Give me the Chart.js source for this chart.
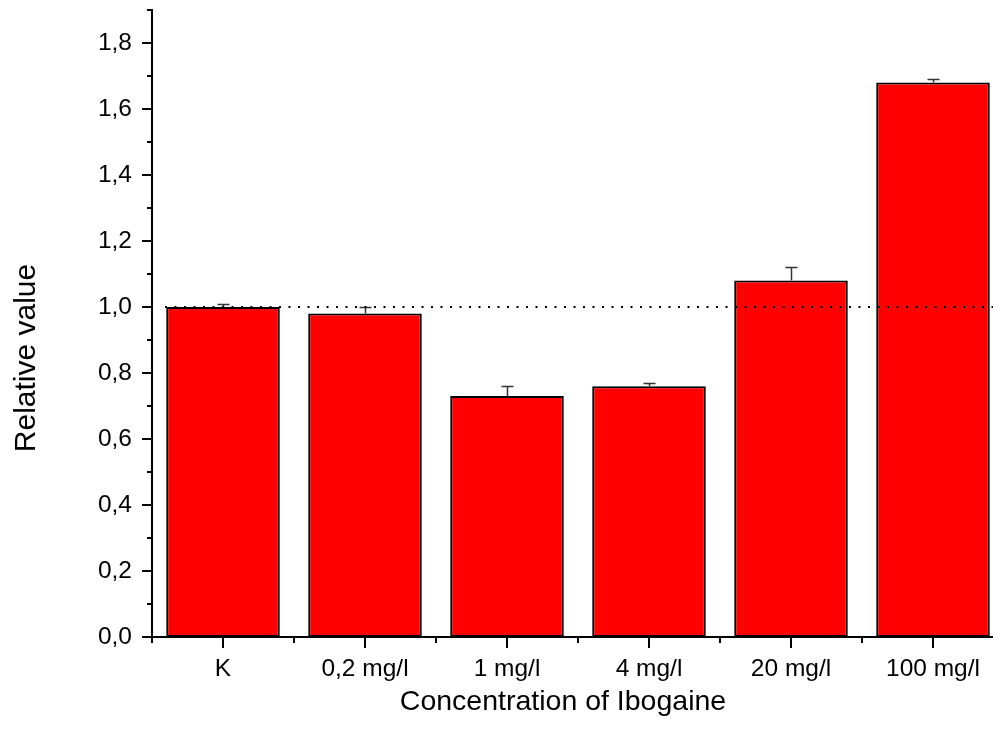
<!DOCTYPE html>
<html lang="en">
<head>
  <meta charset="UTF-8">
  <title>Ibogaine concentration</title>
  <script src="https://cdn.jsdelivr.net/npm/chart.js"></script>
</head>
<style>
  body {
    margin: 0;
    padding: 0;
    background: #fff;
    overflow: hidden;
  }
  canvas {
    display: block;
  }
</style>
<body>
<canvas id="ibogaineChart" width="1010" height="733"></canvas>

<script>
  // data
  const categories = ['K', '0,2 mg/l', '1 mg/l', '4 mg/l', '20 mg/l', '100 mg/l'];
  const relValues = [1.00, 0.98, 0.73, 0.76, 1.08, 1.68];
  const relErrors = [0.01, 0.02, 0.03, 0.01, 0.04, 0.01];
  const yTicks = [0, 0.2, 0.4, 0.6, 0.8, 1.0, 1.2, 1.4, 1.6, 1.8];
  const yTickLabels = ['0,0', '0,2', '0,4', '0,6', '0,8', '1,0', '1,2', '1,4', '1,6', '1,8'];
  const yMinorTicks = [0.1, 0.3, 0.5, 0.7, 0.9, 1.1, 1.3, 1.5, 1.7, 1.9];
  const referenceLevel = 1.0;

  const FONT = 'Liberation Sans, Arial, sans-serif';

  // error bars, dotted reference line, tick marks and axis titles
  const extras = {
    id: 'extras',
    afterDatasetsDraw(chart) {
      const ctx = chart.ctx;
      const x = chart.scales.x;
      const y = chart.scales.y;
      const area = chart.chartArea;

      ctx.save();
      // error bars (upper half only)
      ctx.strokeStyle = '#333';
      ctx.lineWidth = 1.5;
      relValues.forEach((v, i) => {
        const cx = Math.round(x.getPixelForValue(i)) + 0.5;
        const y0 = y.getPixelForValue(v);
        const y1 = Math.round(y.getPixelForValue(v + relErrors[i])) + 0.5;
        ctx.beginPath();
        ctx.moveTo(cx, y0);
        ctx.lineTo(cx, y1);
        ctx.moveTo(cx - 6, y1);
        ctx.lineTo(cx + 6, y1);
        ctx.stroke();
      });

      // dotted line at 1,0
      const yr = y.getPixelForValue(referenceLevel);
      ctx.strokeStyle = '#000';
      ctx.lineWidth = 2;
      ctx.setLineDash([2, 7.5]);
      ctx.beginPath();
      ctx.moveTo(area.left + 13, yr);
      ctx.lineTo(area.right, yr);
      ctx.stroke();
      ctx.setLineDash([]);
      ctx.restore();
    },
    afterDraw(chart) {
      const ctx = chart.ctx;
      const x = chart.scales.x;
      const y = chart.scales.y;
      const area = chart.chartArea;

      ctx.save();
      ctx.strokeStyle = '#000';
      ctx.lineWidth = 2;
      ctx.beginPath();
      // y ticks
      yTicks.forEach(v => {
        const py = Math.round(y.getPixelForValue(v));
        ctx.moveTo(area.left - 10, py);
        ctx.lineTo(area.left, py);
      });
      yMinorTicks.forEach(v => {
        const py = Math.round(y.getPixelForValue(v));
        ctx.moveTo(area.left - 5, py);
        ctx.lineTo(area.left, py);
      });
      // x ticks
      categories.forEach((c, i) => {
        const px = Math.round(x.getPixelForValue(i));
        ctx.moveTo(px, area.bottom);
        ctx.lineTo(px, area.bottom + 11);
        const pm = Math.round(x.getPixelForValue(i - 0.5));
        ctx.moveTo(pm, area.bottom);
        ctx.lineTo(pm, area.bottom + 6);
      });
      ctx.stroke();

      // axis titles
      ctx.fillStyle = '#000';
      ctx.font = '28.5px ' + FONT;
      ctx.textAlign = 'center';
      ctx.textBaseline = 'middle';
      ctx.fillText('Concentration of Ibogaine', 563, 702);
      ctx.font = '30px ' + FONT;
      ctx.translate(27, 358);
      ctx.rotate(-Math.PI / 2);
      ctx.fillText('Relative value', 0, 0);
      ctx.restore();
    }
  };

  const ctx = document.getElementById('ibogaineChart').getContext('2d');
  const ibogaineChart = new Chart(ctx, {
    type: 'bar',
    data: {
      labels: categories,
      datasets: [{
        label: 'Relative value',
        data: relValues,
        backgroundColor: '#ff0000',
        borderColor: '#000',
        borderWidth: 2,
        borderSkipped: false,
        categoryPercentage: 1.0,
        barPercentage: 0.8
      }]
    },
    options: {
      responsive: false,
      animation: false,
      devicePixelRatio: 1,
      layout: {
        padding: { left: 0, right: 6, top: 10, bottom: 0 }
      },
      plugins: {
        legend: { display: false },
        tooltip: { enabled: false }
      },
      scales: {
        x: {
          grid: { display: false, drawTicks: false },
          border: { display: true, color: '#000', width: 2 },
          ticks: {
            color: '#000',
            font: { family: FONT, size: 24.5 },
            padding: 18,
            maxRotation: 0,
            autoSkip: false
          },
          afterFit(scale) {
            scale.height = 96;
            scale.paddingLeft = 0;
            scale.paddingRight = 0;
          }
        },
        y: {
          min: 0,
          max: 1.9,
          grid: { display: false, drawTicks: false },
          border: { display: true, color: '#000', width: 2 },
          ticks: {
            color: '#000',
            font: { family: FONT, size: 24.5 },
            padding: 20,
            callback: (value) => {
              const k = yTicks.findIndex(t => Math.abs(t - value) < 1e-6);
              return k >= 0 ? yTickLabels[k] : '';
            }
          },
          afterBuildTicks(scale) {
            scale.ticks = yTicks.map(v => ({ value: v }));
          },
          afterFit(scale) {
            scale.width = 152;
            scale.paddingTop = 0;
            scale.paddingBottom = 0;
          }
        }
      }
    },
    plugins: [extras]
  });
</script>

</body>
</html>
